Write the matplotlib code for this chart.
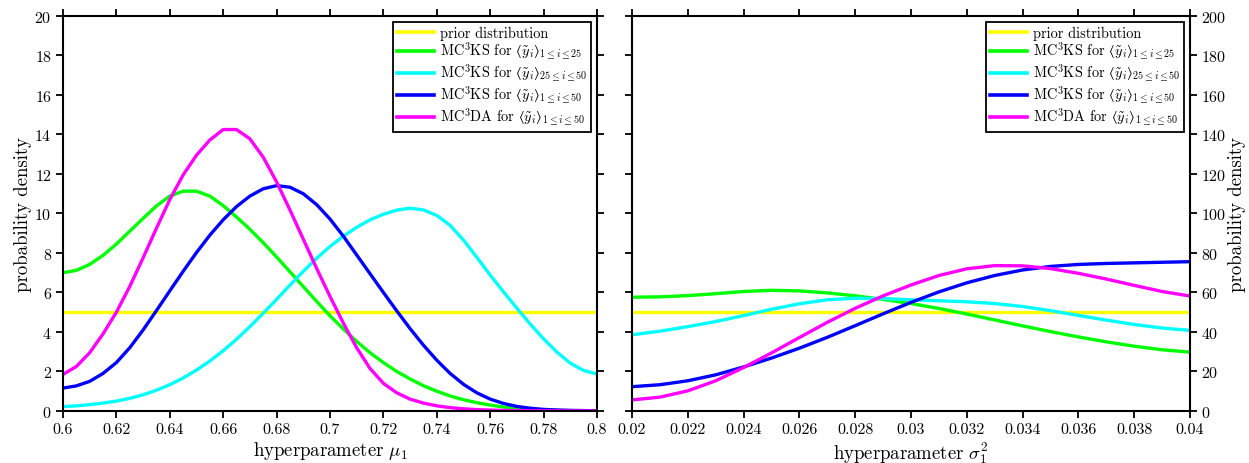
import matplotlib
matplotlib.use('Agg')
import matplotlib.pyplot as plt

plt.rcParams['font.family'] = 'cmr10'
plt.rcParams['mathtext.fontset'] = 'cm'
plt.rcParams['axes.unicode_minus'] = False
plt.rcParams['axes.formatter.use_mathtext'] = True

# left panel: hyperparameter mu_1
mu = [0.600, 0.605, 0.610, 0.615, 0.620, 0.625, 0.630, 0.635, 0.640, 0.645,
      0.650, 0.655, 0.660, 0.665, 0.670, 0.675, 0.680, 0.685, 0.690, 0.695,
      0.700, 0.705, 0.710, 0.715, 0.720, 0.725, 0.730, 0.735, 0.740, 0.745,
      0.750, 0.755, 0.760, 0.765, 0.770, 0.775, 0.780, 0.785, 0.790, 0.795, 0.800]
mu_prior = [5.0] * len(mu)
mu_ks_1_25 = [7.0, 7.12, 7.42, 7.88, 8.45, 9.1, 9.75, 10.38, 10.88, 11.13,
              11.13, 10.88, 10.4, 9.82, 9.2, 8.52, 7.8, 7.05, 6.3, 5.55,
              4.82, 4.15, 3.52, 2.95, 2.45, 2.0, 1.62, 1.28, 1.0, 0.76,
              0.57, 0.42, 0.3, 0.2, 0.13, 0.08, 0.05, 0.03, 0.018, 0.01, 0.006]
mu_ks_25_50 = [0.22, 0.26, 0.32, 0.4, 0.5, 0.64, 0.82, 1.05, 1.33, 1.67,
               2.07, 2.53, 3.05, 3.63, 4.27, 4.95, 5.65, 6.37, 7.07, 7.73,
               8.33, 8.85, 9.3, 9.68, 9.96, 10.17, 10.27, 10.18, 9.9, 9.4,
               8.65, 7.78, 6.88, 6.03, 5.2, 4.4, 3.65, 2.98, 2.42, 2.05, 1.87]
mu_ks_1_50 = [1.16, 1.27, 1.5, 1.9, 2.45, 3.2, 4.1, 5.08, 6.08, 7.07,
              8.02, 8.9, 9.68, 10.35, 10.88, 11.25, 11.41, 11.33, 11.0, 10.45,
              9.72, 8.85, 7.9, 6.95, 6.0, 5.07, 4.17, 3.33, 2.57, 1.9,
              1.35, 0.92, 0.6, 0.38, 0.23, 0.14, 0.08, 0.05, 0.03, 0.02, 0.012]
mu_da_1_50 = [1.85, 2.25, 2.95, 3.9, 5.0, 6.3, 7.75, 9.25, 10.7, 11.95,
              12.95, 13.72, 14.25, 14.25, 13.78, 12.85, 11.6, 10.18, 8.7, 7.22,
              5.8, 4.45, 3.2, 2.15, 1.4, 0.92, 0.6, 0.4, 0.26, 0.17,
              0.11, 0.07, 0.045, 0.03, 0.02, 0.013, 0.009, 0.006, 0.004, 0.003, 0.003]

# right panel: hyperparameter sigma_1^2
sig = [0.020, 0.021, 0.022, 0.023, 0.024, 0.025, 0.026, 0.027, 0.028, 0.029, 0.030,
       0.031, 0.032, 0.033, 0.034, 0.035, 0.036, 0.037, 0.038, 0.039, 0.040]
sig_prior = [50.0] * len(sig)
sig_ks_1_25 = [57.6, 57.8, 58.4, 59.4, 60.5, 61.1, 60.8, 59.8, 58.3, 56.5, 54.4,
               51.9, 49.1, 46.1, 43.1, 40.2, 37.5, 35.0, 32.8, 31.0, 29.8]
sig_ks_25_50 = [38.6, 40.4, 42.7, 45.3, 48.3, 51.5, 54.3, 56.3, 57.1, 56.9, 56.3,
                55.8, 55.3, 54.4, 52.9, 50.8, 48.4, 46.0, 43.8, 42.0, 40.8]
sig_ks_1_50 = [12.3, 13.3, 15.3, 18.3, 22.3, 26.8, 31.8, 37.3, 43.2, 49.2, 55.0,
               60.3, 64.9, 68.6, 71.4, 73.2, 74.2, 74.7, 75.0, 75.3, 75.6]
sig_da_1_50 = [5.6, 7.0, 10.2, 15.3, 22.0, 29.4, 37.2, 44.9, 52.0, 58.3, 63.8,
               68.6, 72.0, 73.6, 73.5, 72.1, 69.7, 66.8, 63.6, 60.5, 58.2]

labels = ['prior distribution',
          'MC$^3$KS for $\u27e8\\tilde{y}_i\u27e9_{1\\leq i\\leq 25}$',
          'MC$^3$KS for $\u27e8\\tilde{y}_i\u27e9_{25\\leq i\\leq 50}$',
          'MC$^3$KS for $\u27e8\\tilde{y}_i\u27e9_{1\\leq i\\leq 50}$',
          'MC$^3$DA for $\u27e8\\tilde{y}_i\u27e9_{1\\leq i\\leq 50}$']
colors = ['#ffff00', '#00ff00', '#00ffff', '#0000ff', '#ff00ff']

fig = plt.figure(figsize=(12.49, 4.64), dpi=100)
ax1 = fig.add_axes([0.0504, 0.1121, 0.4276, 0.8513])
ax2 = fig.add_axes([0.506, 0.1121, 0.4468, 0.8513])

for y, c, lab in zip([mu_prior, mu_ks_1_25, mu_ks_25_50, mu_ks_1_50, mu_da_1_50], colors, labels):
    ax1.plot(mu, y, color=c, lw=2.4, label=lab)
for y, c, lab in zip([sig_prior, sig_ks_1_25, sig_ks_25_50, sig_ks_1_50, sig_da_1_50], colors, labels):
    ax2.plot(sig, y, color=c, lw=2.4, label=lab)

ax1.set_xlim(0.6, 0.8)
ax1.set_ylim(0, 20)
ax1.set_xticks([0.6 + 0.02 * i for i in range(11)])
ax1.set_xticklabels(['0.6', '0.62', '0.64', '0.66', '0.68', '0.7', '0.72', '0.74', '0.76', '0.78', '0.8'])
ax1.set_yticks(range(0, 21, 2))
ax1.set_xlabel(r'hyperparameter $\mu_1$', fontsize=13.5, labelpad=2)
ax1.set_ylabel('probability density', fontsize=13.5, labelpad=2)

ax2.set_xlim(0.02, 0.04)
ax2.set_ylim(0, 200)
ax2.set_xticks([0.02 + 0.002 * i for i in range(11)])
ax2.set_xticklabels(['0.02', '0.022', '0.024', '0.026', '0.028', '0.03', '0.032', '0.034', '0.036', '0.038', '0.04'])
ax2.set_yticks(range(0, 201, 20))
ax2.yaxis.set_label_position('right')
ax2.set_xlabel(r'hyperparameter $\sigma_1^2$', fontsize=13.5, labelpad=2)
ax2.set_ylabel('probability density', fontsize=13.5, labelpad=1)

for ax in (ax1, ax2):
    for s in ax.spines.values():
        s.set_linewidth(1.5)
    ax.tick_params(direction='out', length=5, width=1.3, top=True, right=True,
                   labelsize=11.5, pad=3)
    leg = ax.legend(loc='upper right', fontsize=10.3, fancybox=False, framealpha=1,
                    edgecolor='black', handlelength=2.6, labelspacing=0.0,
                    borderpad=0.25, handletextpad=0.4, borderaxespad=0.45)
    leg.get_frame().set_linewidth(1.3)
    for h in leg.get_lines():
        h.set_linewidth(2.6)

ax2.tick_params(labelleft=False, labelright=True)

fig.savefig('out.png', dpi=100)
